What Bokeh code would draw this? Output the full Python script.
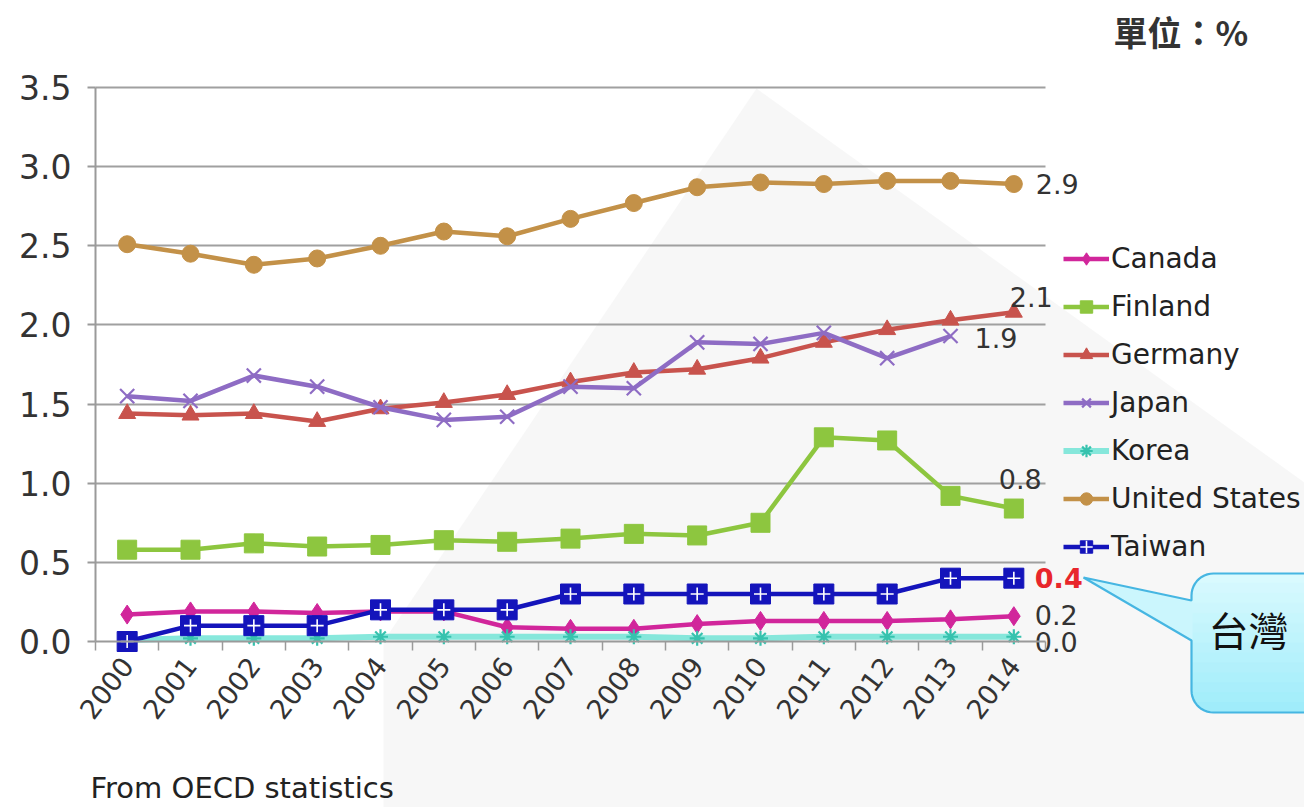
import math
import numpy as np
from bokeh.plotting import figure
from bokeh.models import (Range1d, LinearAxis, FixedTicker, Grid, Legend, LegendItem,
                          Label, NumeralTickFormatter, BasicTickFormatter)
from bokeh.core.properties import value
from bokeh.embed import file_html
from bokeh.resources import INLINE

nan = float("nan")

# Government-funded R&D share, 2000-2014 (%)
years = list(range(2000, 2015))
canada = [0.17, 0.19, 0.19, 0.18, 0.19, 0.19, 0.09, 0.08, 0.08, 0.11, 0.13, 0.13, 0.13, 0.14, 0.16]
finland = [0.58, 0.58, 0.62, 0.60, 0.61, 0.64, 0.63, 0.65, 0.68, 0.67, 0.75, 1.29, 1.27, 0.92, 0.84]
germany = [1.44, 1.43, 1.44, 1.39, 1.47, 1.51, 1.56, 1.64, 1.70, 1.72, 1.79, 1.89, 1.97, 2.03, 2.08]
japan = [1.55, 1.52, 1.68, 1.61, 1.48, 1.40, 1.42, 1.61, 1.60, 1.89, 1.88, 1.95, 1.79, 1.93, nan]
korea = [0.01, 0.02, 0.02, 0.02, 0.03, 0.03, 0.03, 0.03, 0.03, 0.02, 0.02, 0.03, 0.03, 0.03, 0.03]
united_states = [2.51, 2.45, 2.38, 2.42, 2.50, 2.59, 2.56, 2.67, 2.77, 2.87, 2.90, 2.89, 2.91, 2.91, 2.89]
taiwan = [0.0, 0.1, 0.1, 0.1, 0.2, 0.2, 0.2, 0.3, 0.3, 0.3, 0.3, 0.3, 0.3, 0.4, 0.4]

y_ticks = [0.0, 0.5, 1.0, 1.5, 2.0, 2.5, 3.0, 3.5]
unit_text = "單位：%"
source_text = "From OECD statistics"
callout_text = "台灣"

# ---- canvas geometry: the frame fills the whole page, the plot box sits inside it
W, H = 1304, 807
LEFT, RIGHT, TOP, BOTTOM = 95, 1045, 87, 641
X0, X1 = years[0] - 0.5, years[-1] + 0.5
Y0, Y1 = y_ticks[0], y_ticks[-1]
kx = (X1 - X0) / (RIGHT - LEFT)
ky = (Y1 - Y0) / (BOTTOM - TOP)
x_range = Range1d(X0 - LEFT * kx, X1 + (W - RIGHT) * kx)
y_range = Range1d(Y0 - (H - BOTTOM) * ky, Y1 + TOP * ky)


def px_x(px):
    return x_range.start + px * kx


def px_y(py):
    return y_range.end - py * ky


FONT = "DejaVu Sans"

p = figure(width=W, height=H, x_range=x_range, y_range=y_range,
           x_axis_type=None, y_axis_type=None, toolbar_location=None,
           output_backend="svg", min_border=0, outline_line_color=None,
           background_fill_color="white", border_fill_color="white")

# faint backdrop panel
p.patch([px_x(v) for v in (383, 756, 1304, 1304, 383)],
        [px_y(v) for v in (641, 88, 482, 807, 807)],
        fill_color="#f2f2f2", fill_alpha=0.6, line_color=None, level="image")

# ---- axes
yaxis = LinearAxis(fixed_location=X0, bounds=(Y0, Y1),
                   ticker=FixedTicker(ticks=y_ticks, minor_ticks=[]),
                   formatter=NumeralTickFormatter(format="0.0"),
                   axis_line_color="#9a9a9a", axis_line_width=2,
                   major_tick_line_color="#9a9a9a", major_tick_line_width=2,
                   major_tick_out=8, major_tick_in=0, minor_tick_out=0, minor_tick_in=0,
                   major_label_standoff=16, major_label_text_font=FONT,
                   major_label_text_font_size="33px", major_label_text_color="#333333")
p.add_layout(yaxis, "left")

boundaries = [y - 0.5 for y in years] + [years[-1] + 0.5]
xaxis = LinearAxis(fixed_location=Y0, bounds=(X0, X1),
                   ticker=FixedTicker(ticks=years, minor_ticks=boundaries),
                   formatter=BasicTickFormatter(use_scientific=False),
                   axis_line_color="#9a9a9a", axis_line_width=2,
                   major_tick_out=0, major_tick_in=0,
                   minor_tick_line_color="#9a9a9a", minor_tick_line_width=1.5,
                   minor_tick_out=9, minor_tick_in=0,
                   major_label_orientation=0.92, major_label_standoff=10,
                   major_label_text_font=FONT, major_label_text_font_size="27px",
                   major_label_text_color="#333333")
p.add_layout(xaxis, "below")

grid_ticks = [t for t in y_ticks if t > Y0]
if "cross_bounds" in Grid.properties():
    grid = Grid(dimension=1, ticker=FixedTicker(ticks=grid_ticks, minor_ticks=[]),
                cross_bounds=(X0, X1), grid_line_color="#a0a0a0", grid_line_width=2)
    p.add_layout(grid)
else:
    p.segment(x0=[X0] * len(grid_ticks), x1=[X1] * len(grid_ticks), y0=grid_ticks,
              y1=grid_ticks, line_color="#a0a0a0", line_width=2, level="underlay")

# ---- series
series = [
    ("Canada", canada, "#d1269b", "diamond", 19),
    ("Finland", finland, "#8dc63f", "square", 19),
    ("Germany", germany, "#c8534d", "triangle", 17),
    ("Japan", japan, "#8e6cc4", "x", 20),
    ("Korea", korea, "#72e4d6", "asterisk", 15),
    ("United States", united_states, "#c39148", "circle", 17),
    ("Taiwan", taiwan, "#1414bb", "square", 20),
]

items = []
for name, vals, color, marker, size in series:
    lw = 6 if name == "Korea" else 4.5
    line = p.line(years, vals, line_color=color, line_width=lw,
                  line_alpha=0.85 if name == "Korea" else 1.0)
    rends = [line]
    if marker in ("x", "asterisk"):
        mcolor = "#36c2ae" if name == "Korea" else color
        rends.append(p.scatter(years, vals, marker=marker, size=size,
                               line_color=mcolor, line_width=2.2))
    else:
        rends.append(p.scatter(years, vals, marker=marker, size=size,
                               fill_color=color, line_color=color, line_width=1))
    if name == "Taiwan":
        rends.append(p.scatter(years, vals, marker="cross", size=13,
                               line_color="white", line_width=1.6))
    items.append(LegendItem(label=name, renderers=rends))

# ---- end-of-series value labels
def last_valid(vals):
    for i in range(len(vals) - 1, -1, -1):
        if not math.isnan(vals[i]):
            return years[i], vals[i]


label_specs = [
    (united_states, 22, 0),
    (germany, -4, -15),
    (japan, 24, 2),
    (finland, -15, -30),
    (canada, 21, -1),
    (korea, 21, 5),
]
lx, ly, lt, ox, oy = [], [], [], [], []
for vals, dx, dy in label_specs:
    xv, yv = last_valid(vals)
    lx.append(xv)
    ly.append(yv)
    lt.append(f"{yv:.1f}")
    ox.append(dx)
    oy.append(dy)
p.text(x=lx, y=ly, text=lt, x_offset=ox, y_offset=oy, text_font=value(FONT),
       text_font_size="27px", text_color="#333333", text_baseline="middle",
       text_align="left")

tx, ty = last_valid(taiwan)
p.text(x=[tx], y=[ty], text=[f"{ty:.1f}"], x_offset=21, y_offset=0,
       text_font=value(FONT), text_font_size="27px", text_font_style="bold",
       text_color="#e8262b", text_baseline="middle", text_align="left")

# ---- legend
legend = Legend(items=items, location=(1063, H - 563), padding=0, margin=0,
                spacing=15, glyph_width=46, glyph_height=31, label_height=31,
                label_standoff=2, label_text_font=FONT, label_text_font_size="28px",
                label_text_color="#222222", border_line_color=None,
                background_fill_alpha=0)
p.add_layout(legend)

# ---- callout box pointing at the Taiwan value
bx, btop, bbot, r = 1191, 573, 712, 22
bright = 1340
top_c, bot_c = np.array([0xdb, 0xfa, 0xfe]), np.array([0x9e, 0xec, 0xfa])


def left_edge(yy):
    if yy < btop + r:
        d = btop + r - yy
        return bx + r - math.sqrt(max(r * r - d * d, 0))
    if yy > bbot - r:
        d = yy - (bbot - r)
        return bx + r - math.sqrt(max(r * r - d * d, 0))
    return bx


def shade(yy):
    t = (yy - btop) / (bbot - btop)
    c = top_c + (bot_c - top_c) * min(max(t, 0), 1)
    return "#%02x%02x%02x" % tuple(int(round(v)) for v in c)


n_strips = 14
edges = np.linspace(btop, bbot, n_strips + 1)
for a, b in zip(edges[:-1], edges[1:]):
    ys_s = np.linspace(a, b, 6)
    xs_poly = [left_edge(v) for v in ys_s] + [bright, bright]
    ys_poly = list(ys_s) + [b, a]
    p.patch([px_x(v) for v in xs_poly], [px_y(v) for v in ys_poly],
            fill_color=shade((a + b) / 2), line_color=shade((a + b) / 2),
            line_width=1, level="overlay")

tip = (1083, 577)
p.patch([px_x(v) for v in (bx + 1, tip[0], bx + 1)],
        [px_y(v) for v in (600, tip[1], 640)],
        fill_color=shade(610), line_color=None, level="overlay")

outline = [(bright, btop)]
outline += [(bx + r + r * math.cos(a), btop + r + r * math.sin(a))
            for a in np.linspace(1.5 * math.pi, math.pi, 12)]
outline += [(bx, 600), tip, (bx, 640)]
outline += [(bx + r + r * math.cos(a), bbot - r + r * math.sin(a))
            for a in np.linspace(math.pi, 0.5 * math.pi, 12)]
outline += [(bright, bbot)]
p.line([px_x(v[0]) for v in outline], [px_y(v[1]) for v in outline],
       line_color="#46b6e2", line_width=2.2, level="overlay")

# ---- free texts
p.add_layout(Label(x=1208, y=H - 628, x_units="screen", y_units="screen",
                   text=callout_text, text_font="Noto Sans CJK TC",
                   text_font_size="40px", text_color="#111111",
                   text_baseline="middle", text_align="left", level="overlay"))
p.add_layout(Label(x=1113, y=H - 31, x_units="screen", y_units="screen",
                   text=unit_text, text_font="Noto Sans CJK TC", text_font_style="bold",
                   text_font_size="34px", text_color="#333333",
                   text_baseline="middle", text_align="left"))
p.add_layout(Label(x=90, y=H - 787, x_units="screen", y_units="screen",
                   text=source_text, text_font=FONT, text_font_size="29px",
                   text_color="#222222", text_baseline="middle", text_align="left"))

open("out.html", "w").write(file_html(p, INLINE))
